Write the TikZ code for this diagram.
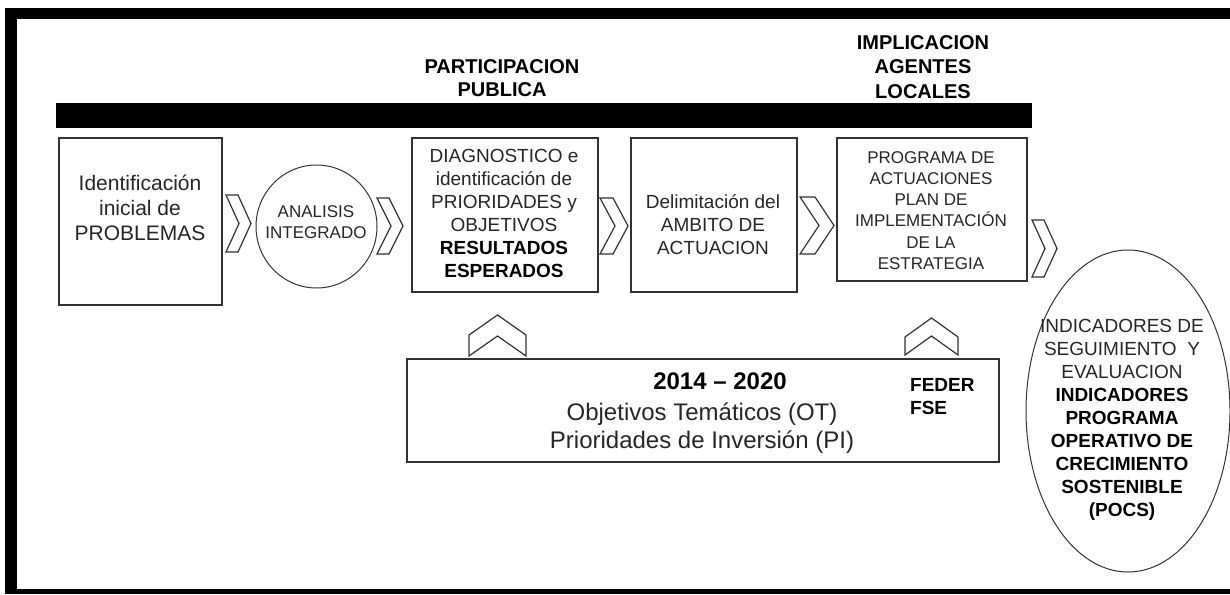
\documentclass[tikz,border=0pt]{standalone}
\usepackage{fontspec}
\setmainfont{Liberation Sans}
\usetikzlibrary{shapes.geometric}
\tikzset{
  boxnode/.style={draw=black!80, line width=1.3pt, rectangle, inner sep=0pt},
  ovalnode/.style={draw=black!80, line width=1pt, ellipse, inner sep=0pt},
  txt/.style={inner sep=0pt, align=center, text=black!85},
  headtxt/.style={inner sep=0pt, align=center, text=black, font=\bfseries\fontsize{20}{23}\selectfont},
  chevline/.style={draw=black!80, line width=1.2pt, line join=miter, fill=white},
  pics/rchev/.style n args={3}{code={
    \draw[chevline] (-#1/2,-#2/2) -- (#1/2-#3,-#2/2) -- (#1/2,0) -- (#1/2-#3,#2/2)
      -- (-#1/2,#2/2) -- (-#1/2+#3,0) -- cycle;}},
  pics/uchev/.style n args={3}{code={
    \draw[chevline] (-#1/2,#2/2) -- (-#1/2,-#2/2+#3) -- (0,-#2/2) -- (#1/2,-#2/2+#3)
      -- (#1/2,#2/2) -- (0,#2/2-#3) -- cycle;}},
}
\begin{document}
\begin{tikzpicture}[x=1pt,y=-1pt]
\useasboundingbox (0,0) rectangle (1230,594);
% outer frame
\fill[black] (5,8) rectangle (1230,19);
\fill[black] (5,8) rectangle (17,594);
\fill[black] (5,589) rectangle (1230,594);
% top bar
\fill[black] (56,103) rectangle (1032,128);
% headings
\node[headtxt] (hpart) at (502,80) {\strut PARTICIPACION\\PUBLICA\strut};
\node[headtxt, font=\bfseries\fontsize{20}{24.5}\selectfont] (himpl) at (923,68.8) {\strut IMPLICACION\\AGENTES\\LOCALES\strut};
% main boxes
\node[boxnode, minimum width=163pt, minimum height=167pt] (b1) at (140.5,221.5) {};
\node[ovalnode, minimum width=121pt, minimum height=123pt] (circ) at (316.5,226.5) {};
\node[boxnode, minimum width=186pt, minimum height=154pt] (b3) at (505,215) {};
\node[boxnode, minimum width=166pt, minimum height=154pt] (b4) at (714,215) {};
\node[boxnode, minimum width=190pt, minimum height=143pt] (b5) at (932,209.5) {};
\node[boxnode, minimum width=592pt, minimum height=103pt] (big) at (703,410.5) {};
\node[ovalnode, minimum width=204pt, minimum height=322pt] (ell) at (1128,411) {};
% texts
\node[txt, font=\fontsize{21}{25}\selectfont] (t1) at (140,210.5)
  {\strut Identificación\\inicial de\\PROBLEMAS\strut};
\node[txt, font=\fontsize{17}{21}\selectfont] (tc) at (316,223.4)
  {\strut ANALISIS\\INTEGRADO\strut};
\node[txt, font=\fontsize{19}{23}\selectfont] (t3) at (504,215.2)
  {\strut DIAGNOSTICO e\\identificación de\\PRIORIDADES y\\OBJETIVOS\\\textcolor{black}{\bfseries RESULTADOS}\\\textcolor{black}{\bfseries ESPERADOS}\strut};
\node[txt, font=\fontsize{19}{23}\selectfont] (t4) at (713,227.2)
  {\strut Delimitación del\\AMBITO DE\\ACTUACION\strut};
\node[txt, font=\fontsize{17}{21.3}\selectfont] (t5) at (931,212)
  {\strut PROGRAMA DE\\ACTUACIONES\\PLAN DE\\IMPLEMENTACIÓN\\DE LA\\ESTRATEGIA\strut};
\node[txt, font=\fontsize{19}{23}\selectfont] (te) at (1122,419.7)
  {\strut INDICADORES DE\\SEGUIMIENTO~ Y\\EVALUACION\\\textcolor{black}{\bfseries INDICADORES}\\\textcolor{black}{\bfseries PROGRAMA}\\\textcolor{black}{\bfseries OPERATIVO DE}\\\textcolor{black}{\bfseries CRECIMIENTO}\\\textcolor{black}{\bfseries SOSTENIBLE}\\\textcolor{black}{\bfseries (POCS)}\strut};
\node[txt, text=black, font=\bfseries\fontsize{24}{28}\selectfont] (tyear) at (720,384)
  {\strut 2014 – 2020\strut};
\node[txt, font=\fontsize{24}{28}\selectfont] (tobj) at (702,429)
  {\strut Objetivos Temáticos (OT)\\Prioridades de Inversión (PI)\strut};
\node[txt, text=black, anchor=west, align=left, font=\bfseries\fontsize{19}{23}\selectfont] (tfed) at (910,398.7)
  {\strut FEDER\\FSE\strut};
% chevrons (flow markers)
\pic at (238.5,223.5) {rchev={25}{57}{13}};
\pic at (390,226) {rchev={26}{56}{14}};
\pic at (614,226) {rchev={28}{56}{15}};
\pic at (817,225.5) {rchev={34}{57}{19}};
\pic at (1044.5,248.5) {rchev={25}{57}{13}};
\pic at (497.5,335.5) {uchev={57}{41}{20}};
\pic at (931.5,336.5) {uchev={53}{37}{19}};
\end{tikzpicture}
\end{document}
